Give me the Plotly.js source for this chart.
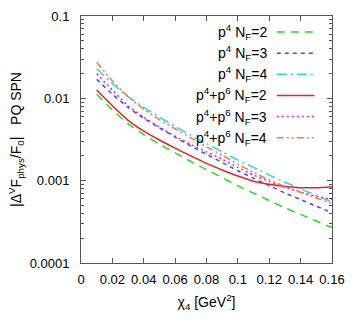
<!DOCTYPE html>
<html>
<head>
<meta charset="utf-8">
<script src="https://cdn.plot.ly/plotly-3.0.1.min.js"></script>
<style>html,body{margin:0;padding:0;background:#fff;}#chart{width:357px;height:323px;}</style>
</head>
<body>
<div id="chart"></div>
<script>
// chi_4 values [GeV^2]
const chi4 = [0.01,0.02,0.03,0.04,0.05,0.06,0.07,0.08,0.09,0.10,0.11,0.12,0.13,0.14,0.15,0.16];

// |Delta^V F_phys / F_0|
const p4_NF2 = [0.01122,0.00724,0.00490,0.00363,0.00277,0.00218,0.00171,0.00136,0.00109,0.000866,0.000705,0.000575,0.000468,0.000389,0.000324,0.000269];
const p4_NF3 = [0.0170,0.01122,0.00776,0.00575,0.00437,0.00339,0.00263,0.00209,0.00166,0.00132,0.00107,0.000871,0.000708,0.000589,0.000490,0.000407];
const p4_NF4 = [0.0229,0.0151,0.0105,0.00776,0.00589,0.00457,0.00355,0.00282,0.00224,0.00178,0.00145,0.00117,0.000955,0.000794,0.000661,0.000550];
const p46_NF2 = [0.0126,0.00813,0.00540,0.00400,0.00312,0.00248,0.00200,0.00162,0.00135,0.00114,0.000985,0.000902,0.000851,0.000822,0.000822,0.000845];
const p46_NF3 = [0.0200,0.0126,0.00813,0.00589,0.00447,0.00347,0.00275,0.00224,0.00182,0.00145,0.00117,0.000977,0.000832,0.000724,0.000646,0.000589];
const p46_NF4 = [0.0275,0.0162,0.0105,0.00741,0.00550,0.00427,0.00331,0.00257,0.00204,0.00158,0.00126,0.00102,0.000851,0.000724,0.000617,0.000525];

const seriesNames = [
  "p<sup>4</sup> N<sub>F</sub>=2",
  "p<sup>4</sup> N<sub>F</sub>=3",
  "p<sup>4</sup> N<sub>F</sub>=4",
  "p<sup>4</sup>+p<sup>6</sup> N<sub>F</sub>=2",
  "p<sup>4</sup>+p<sup>6</sup> N<sub>F</sub>=3",
  "p<sup>4</sup>+p<sup>6</sup> N<sub>F</sub>=4"
];
const seriesData = [p4_NF2, p4_NF3, p4_NF4, p46_NF2, p46_NF3, p46_NF4];
const colors = ["#22dd22", "#4848ee", "#22dddd", "#ee2222", "#e022e0", "#ff7744"];
const dashes = ["8px,6px", "4px,4px", "10px,4px,2px,4px", "solid", "2px,3px", "7px,3px,2px,3px,2px,3px"];

const xTickVals = [0,0.02,0.04,0.06,0.08,0.1,0.12,0.14,0.16];
const xTickText = ["0","0.02","0.04","0.06","0.08","0.1","0.12","0.14","0.16"];
const yTickVals = [0.0001,0.001,0.01,0.1];
const yTickText = ["0.0001","0.001","0.01","0.1"];
const yMinorVals = [];
[0.0001, 0.001, 0.01].forEach(d => { for (let k = 2; k <= 9; k++) yMinorVals.push(d * k); });

const FONT = "Liberation Sans, Arial, Helvetica, sans-serif";

const traces = seriesData.map((d, i) => ({
  x: chi4, y: d, type: "scatter", mode: "lines",
  line: {color: colors[i], width: 1.5, dash: dashes[i], shape: "spline", smoothing: 0.6},
  name: seriesNames[i], showlegend: false, hoverinfo: "skip"
}));

// gnuplot-style legend: text right-aligned, line sample to the right
const annotations = [];
const shapes = [];
seriesNames.forEach((n, i) => {
  const yy = 0.935 - i * 0.0855;
  annotations.push({xref: "paper", yref: "paper", x: 0.748, y: yy, xanchor: "right", yanchor: "middle",
    text: n, showarrow: false, font: {family: FONT, size: 14, color: "#000"}});
  shapes.push({type: "line", xref: "paper", yref: "paper", x0: 0.78, x1: 0.93, y0: yy, y1: yy,
    line: {color: colors[i], width: 1.5, dash: dashes[i]}});
});

const layout = {
  width: 357, height: 323,
  margin: {l: 81, r: 25, t: 16, b: 60},
  paper_bgcolor: "#fff", plot_bgcolor: "#fff",
  font: {family: FONT, size: 13, color: "#000"},
  showlegend: false,
  xaxis: {
    range: [0, 0.16], tickvals: xTickVals, ticktext: xTickText,
    ticks: "inside", ticklen: 5, tickcolor: "#555", showline: true, linecolor: "#555", linewidth: 1,
    mirror: "ticks", showgrid: false, zeroline: false,
    tickfont: {family: FONT, size: 13}, ticklabelstandoff: 4,
    title: {text: "χ<sub>4</sub> [GeV<sup>2</sup>]", font: {family: FONT, size: 14}, standoff: 11}
  },
  yaxis: {
    type: "log", range: [-4, -1], tickvals: yTickVals, ticktext: yTickText,
    ticks: "inside", ticklen: 5, tickcolor: "#555", showline: true, linecolor: "#555", linewidth: 1,
    mirror: "ticks", showgrid: false, zeroline: false,
    tickfont: {family: FONT, size: 13}, ticklabelstandoff: 8,
    minor: {tickmode: "array", tickvals: yMinorVals, ticks: "inside", ticklen: 3, tickcolor: "#555", showgrid: false},
    title: {text: "|Δ<sup>V</sup>F<sub>phys</sub>/F<sub>0</sub>|&nbsp;&nbsp;&nbsp;PQ SPN", font: {family: FONT, size: 14}, standoff: 4}
  },
  annotations: annotations,
  shapes: shapes
};

Plotly.newPlot("chart", traces, layout, {staticPlot: true, displayModeBar: false});
</script>
</body>
</html>
